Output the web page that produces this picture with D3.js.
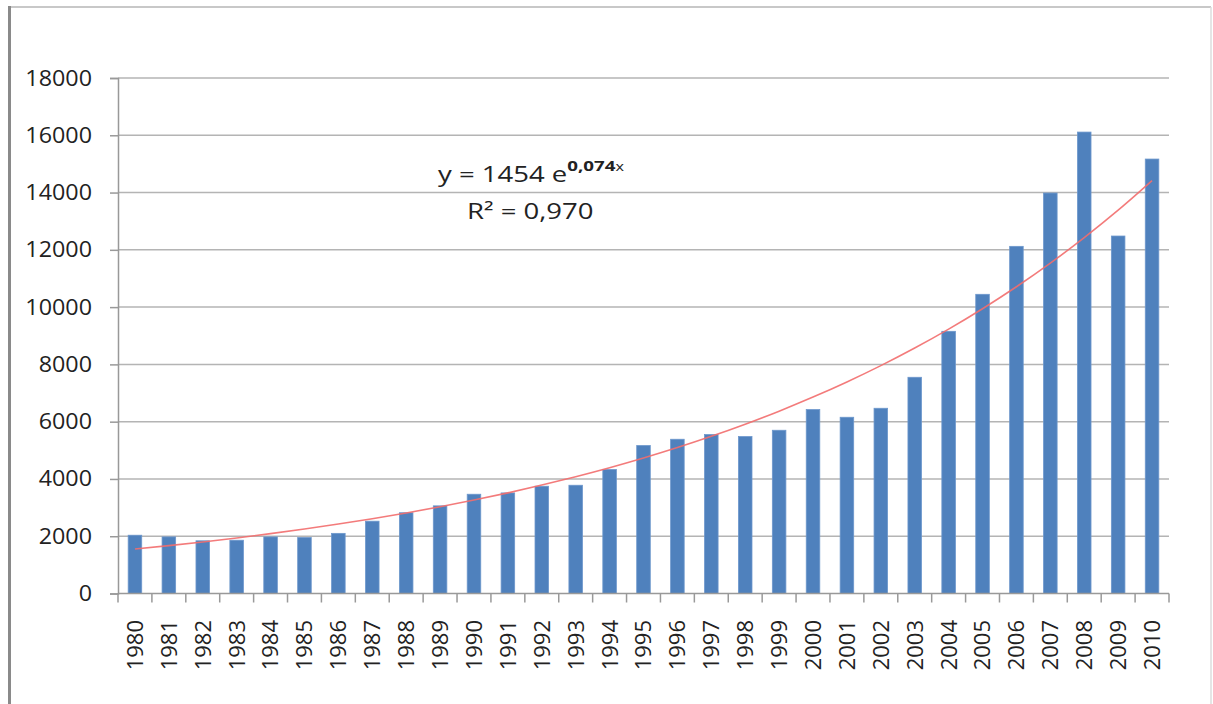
<!DOCTYPE html>
<html>
<head>
<meta charset="utf-8">
<script src="https://cdn.jsdelivr.net/npm/d3@7"></script>
<style>
  body { margin: 0; background: #fff; }
  svg { display: block; }
  text { font-family: "Open Sans", Lato, sans-serif; fill: #222; }
</style>
</head>
<body>
<svg id="chart" width="1213" height="704"></svg>
<script>
// data
var years = ['1980','1981','1982','1983','1984','1985','1986','1987','1988','1989',
  '1990','1991','1992','1993','1994','1995','1996','1997','1998','1999',
  '2000','2001','2002','2003','2004','2005','2006','2007','2008','2009','2010'];
var values = [2035, 1976, 1840, 1860, 1976, 1953, 2100, 2525, 2820, 3060,
  3466, 3512, 3745, 3780, 4328, 5166, 5386, 5550, 5480, 5700,
  6422, 6154, 6468, 7550, 9155, 10447, 12122, 13983, 16112, 12482, 15170];
var yTicks = [0, 2000, 4000, 6000, 8000, 10000, 12000, 14000, 16000, 18000];
var eqMain = 'y = 1454 e', eqExp = '0,074', eqVar = 'x', eqR2 = ' = 0,970';

var svg = d3.select('#chart');

// frame around chart area
svg.append('line').attr('x1', 9).attr('x2', 1211).attr('y1', 7).attr('y2', 7)
  .attr('stroke', '#c8c8c8').attr('stroke-width', 2);
svg.append('line').attr('x1', 1211).attr('x2', 1211).attr('y1', 7).attr('y2', 704)
  .attr('stroke', '#dcdcdc').attr('stroke-width', 1.5);
svg.append('line').attr('x1', 9.5).attr('x2', 9.5).attr('y1', 6).attr('y2', 704)
  .attr('stroke', '#8a8a8a').attr('stroke-width', 3);

var plotL = 118, plotR = 1169, plotT = 78, plotB = 593.5;

var x = d3.scaleBand().domain(years).range([plotL, plotR]).paddingInner(0.6).paddingOuter(0.3);
var y = d3.scaleLinear().domain([0, 18000]).range([plotB, plotT]);

// gridlines
svg.append('g').selectAll('line').data(yTicks.filter(function (d) { return d > 0; }))
  .enter().append('line')
  .attr('x1', plotL).attr('x2', plotR)
  .attr('y1', function (d) { return y(d); }).attr('y2', function (d) { return y(d); })
  .attr('stroke', '#b4b4b4').attr('stroke-width', 1.5);

// y axis
var yAxis = svg.append('g').attr('transform', 'translate(' + plotL + ',0)')
  .call(d3.axisLeft(y).tickValues(yTicks).tickSize(8).tickPadding(18).tickFormat(d3.format('d')));
yAxis.select('.domain').attr('stroke', '#999').attr('stroke-width', 1.5);
yAxis.selectAll('.tick line').attr('stroke', '#999').attr('stroke-width', 1.5);
yAxis.selectAll('text').attr('font-size', 22).attr('fill', '#222')
  .attr('x', -26 / 1.06).attr('transform', 'scale(1.06,1)')
  .style('font-family', '"Open Sans", sans-serif');

// bars
svg.append('g').selectAll('rect').data(values).enter().append('rect')
  .attr('x', function (d, i) { return x(years[i]); })
  .attr('y', function (d) { return y(d); })
  .attr('width', x.bandwidth())
  .attr('height', function (d) { return plotB - y(d); })
  .attr('fill', '#4f81bd').attr('stroke', '#6d97cc').attr('stroke-width', 0.8);

// x axis with ticks between categories
var step = (plotR - plotL) / years.length;
var xg = svg.append('g');
xg.append('line').attr('x1', plotL).attr('x2', plotR).attr('y1', plotB).attr('y2', plotB)
  .attr('stroke', '#999').attr('stroke-width', 1.5);
xg.selectAll('line.tk').data(d3.range(years.length + 1)).enter().append('line')
  .attr('class', 'tk')
  .attr('x1', function (i) { return plotL + i * step; })
  .attr('x2', function (i) { return plotL + i * step; })
  .attr('y1', plotB).attr('y2', plotB + 9)
  .attr('stroke', '#999').attr('stroke-width', 1.5);
xg.selectAll('text').data(years).enter().append('text')
  .attr('transform', function (d) {
    return 'translate(' + (x(d) + x.bandwidth() / 2) + ',620) rotate(-90)';
  })
  .attr('text-anchor', 'end').attr('dy', '0.36em')
  .attr('font-size', 22)
  .text(function (d) { return d; });

// exponential trendline fitted to the bars (least squares on ln y)
var n = values.length, sx = 0, sy = 0, sxx = 0, sxy = 0;
values.forEach(function (v, i) {
  var t = i + 1, l = Math.log(v);
  sx += t; sy += l; sxx += t * t; sxy += t * l;
});
var b = (n * sxy - sx * sy) / (n * sxx - sx * sx);
var a = Math.exp((sy - b * sx) / n);
var trend = years.map(function (d, i) { return { year: d, v: a * Math.exp(b * (i + 1)) }; });

svg.append('path').datum(trend)
  .attr('d', d3.line().curve(d3.curveMonotoneX)
    .x(function (d) { return x(d.year) + x.bandwidth() / 2; })
    .y(function (d) { return y(d.v); }))
  .attr('fill', 'none').attr('stroke', '#f26d6d').attr('stroke-width', 1.6).attr('opacity', 0.9);

// equation label
var eq = svg.append('text').attr('transform', 'translate(438,182) scale(1.25,1)')
  .attr('font-size', 22);
eq.append('tspan').text(eqMain);
eq.append('tspan').attr('dy', -11).attr('font-size', 15).attr('font-weight', 'bold').text(eqExp);
eq.append('tspan').attr('font-size', 13).text(eqVar);

var r2 = svg.append('text').attr('transform', 'translate(467,219) scale(1.25,1)')
  .attr('font-size', 22);
r2.append('tspan').text('R');
r2.append('tspan').text('\u00b2');
r2.append('tspan').text(eqR2);
</script>
</body>
</html>
